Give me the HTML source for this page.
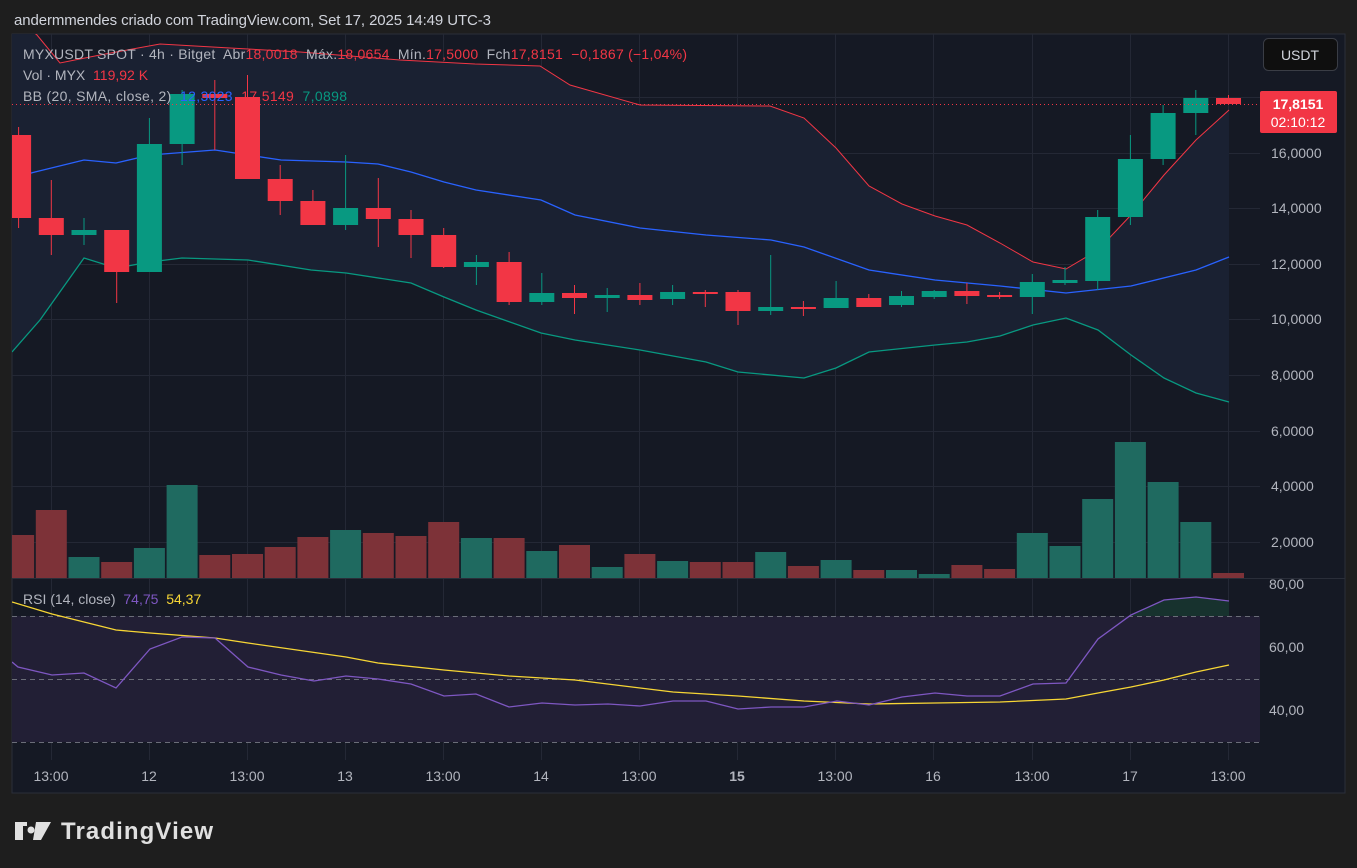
<!DOCTYPE html>
<html><head><meta charset="utf-8"><style>
body{margin:0;background:#1e1e1e;width:1357px;height:868px;overflow:hidden;font-family:"Liberation Sans",sans-serif}
svg{position:absolute;left:0;top:0}
text{white-space:pre}
</style></head><body>
<svg id="s" width="1357" height="868" xmlns="http://www.w3.org/2000/svg" font-family="Liberation Sans, sans-serif" xml:space="preserve">
<rect x="0" y="0" width="1357" height="868" fill="#1e1e1e"/>
<text x="14" y="25" fill="#d1d4dc" font-size="15" textLength="477">andermmendes criado com TradingView.com, Set 17, 2025 14:49 UTC-3</text>
<rect x="12" y="34" width="1333" height="759" fill="#151924" stroke="#2a2e39"/>
<defs><clipPath id="mc"><rect x="12" y="34" width="1248" height="544"/></clipPath>
<clipPath id="rc"><rect x="12" y="579" width="1248" height="181"/></clipPath></defs>
<g id="grid" stroke="#242835" stroke-width="1"></g>
<g id="main" clip-path="url(#mc)"></g>
<line x1="12" y1="578.5" x2="1345" y2="578.5" stroke="#2a2e39"/>
<g id="rsi" clip-path="url(#rc)"></g>
<g fill="#b2b5be" font-size="14" id="plab">
<text x="1271" y="158">16,0000</text><text x="1271" y="213">14,0000</text><text x="1271" y="269">12,0000</text>
<text x="1271" y="324">10,0000</text><text x="1271" y="380">8,0000</text><text x="1271" y="436">6,0000</text>
<text x="1271" y="491">4,0000</text><text x="1271" y="547">2,0000</text>
<text x="1269" y="589">80,00</text><text x="1269" y="652">60,00</text><text x="1269" y="715">40,00</text>
</g>
<g fill="#b2b5be" font-size="14" text-anchor="middle">
<text x="51" y="781">13:00</text><text x="149" y="781">12</text><text x="247" y="781">13:00</text>
<text x="345" y="781">13</text><text x="443" y="781">13:00</text><text x="541" y="781">14</text>
<text x="639" y="781">13:00</text><text x="737" y="781" font-weight="bold">15</text><text x="835" y="781">13:00</text>
<text x="933" y="781">16</text><text x="1032" y="781">13:00</text><text x="1130" y="781">17</text><text x="1228" y="781">13:00</text>
</g>
<rect x="1263.5" y="38.5" width="74" height="32" rx="5" fill="#0f0f0f" stroke="#3a3d45"/>
<text x="1300" y="60" fill="#d1d4dc" font-size="14" text-anchor="middle">USDT</text>
<rect x="1260" y="91" width="77" height="42" rx="2" fill="#f23645"/>
<text x="1298" y="109" fill="#fff" font-size="14" font-weight="bold" text-anchor="middle">17,8151</text>
<text x="1298" y="127" fill="#fff" font-size="14" text-anchor="middle">02:10:12</text>
<g font-size="14">
<text x="23" y="59" fill="#b2b5be" textLength="664">MYXUSDT SPOT · 4h · Bitget  Abr<tspan fill="#f23645">18,0018</tspan>  Máx.<tspan fill="#f23645">18,0654</tspan>  Mín.<tspan fill="#f23645">17,5000</tspan>  Fch<tspan fill="#f23645">17,8151  −0,1867 (−1,04%)</tspan></text>
<text x="23" y="80" fill="#b2b5be">Vol · MYX  <tspan fill="#f23645">119,92 K</tspan></text>
<text x="23" y="101" fill="#b2b5be" textLength="324">BB (20, SMA, close, 2)  <tspan fill="#2962ff">12,3023</tspan>  <tspan fill="#f23645">17,5149</tspan>  <tspan fill="#089981">7,0898</tspan></text>
<text x="23" y="604" fill="#b2b5be">RSI (14, close)  <tspan fill="#7e57c2">74,75</tspan>  <tspan fill="#f7d635">54,37</tspan></text>
</g>
<g fill="#e0e0e0">
<path d="M15 822h12v4h-4v14h-8z"/><circle cx="31" cy="830" r="3.5"/><path d="M36 822h15l-10 18h-8z"/>
</g>
<text x="61" y="839" fill="#e0e0e0" font-size="24" font-weight="bold" textLength="152">TradingView</text>
</svg>
<script>
var NS="http://www.w3.org/2000/svg";
function el(p,t,a){var e=document.createElementNS(NS,t);for(var k in a)e.setAttribute(k,a[k]);document.getElementById(p).appendChild(e);return e;}
var gx=[51,149,247,345,443,541,639,737,835,933,1032,1130,1228];
gx.forEach(function(x){el('grid','line',{x1:x+.5,y1:34,x2:x+.5,y2:760});});
[97,153,208,264,319,375,431,486,542].forEach(function(y){el('grid','line',{x1:12,y1:y+.5,x2:1260,y2:y+.5});});
[647,710].forEach(function(y){el('grid','line',{x1:12,y1:y+.5,x2:1260,y2:y+.5});});
function X(i){return 18.6+32.7*i;}
var up=[[12,15],[37,35],[60,63],[100,55],[160,44],[230,48],[300,52],[400,60],[475,64],[540,66],[570,85],[640,105],[770,106],[804,118],[836,148],[869,186],[902,204],[935,216],[967,225],[1000,243],[1033,262],[1066,269],[1098,250],[1131,215],[1164,175],[1196,140],[1229,110]];
var mid=[[12,178],[35,172],[84,160],[116,163],[150,155],[215,150],[248,155],[281,160],[346,162],[378,164],[411,172],[444,182],[476,190],[541,200],[575,215],[640,228],[706,235],[771,240],[804,247],[869,270],[935,280],[1000,286],[1066,293],[1131,286],[1196,270],[1229,257]];
var lo=[[12,352],[40,320],[84,258],[116,268],[150,262],[182,258],[248,260],[311,270],[346,273],[411,283],[444,297],[476,310],[541,333],[575,340],[640,350],[706,362],[738,372],[804,378],[836,368],[869,352],[935,345],[967,342],[1000,336],[1033,325],[1066,318],[1098,330],[1131,355],[1164,378],[1196,393],[1229,402]];
function pts(a){return a.map(function(p){return p[0]+','+p[1];}).join(' ');}
el('main','polygon',{points:pts(up)+' '+pts(lo.slice().reverse()),fill:'#1a2132'});
var vol=[[535,0],[510,0],[557,1],[562,0],[548,1],[485,1],[555,0],[554,0],[547,0],[537,0],[530,1],[533,0],[536,0],[522,0],[538,1],[538,0],[551,1],[545,0],[567,1],[554,0],[561,1],[562,0],[562,0],[552,1],[566,0],[560,1],[570,0],[570,1],[574,1],[565,0],[569,0],[533,1],[546,1],[499,1],[442,1],[482,1],[522,1],[573,0]];
vol.forEach(function(v,i){el('main','rect',{x:X(i)-15.5,y:v[0],width:31,height:578-v[0],fill:v[1]?'#1f6a60':'#7d3238'});});
el('main','polyline',{points:pts(up),fill:'none',stroke:'#f23645','stroke-width':1});
el('main','polyline',{points:pts(mid),fill:'none',stroke:'#2962ff','stroke-width':1.3});
el('main','polyline',{points:pts(lo),fill:'none',stroke:'#089981','stroke-width':1.3});
var c=[[135,218,127,228],[218,235,180,255],[235,230,218,245],[230,272,230,303],[272,144,118,272],[144,94,90,165],[94,98,80,150],[97,179,75,179],[179,201,165,215],[201,225,190,225],[225,208,155,230],[208,219,178,247],[219,235,210,258],[235,267,228,268],[267,262,255,285],[262,302,252,305],[302,293,273,305],[293,298,285,314],[298,295,288,312],[295,300,283,305],[299,292,285,305],[292,293,290,307],[292,311,290,325],[311,307,255,315],[307,308,301,316],[308,298,281,308],[298,307,294,306],[305,296,291,307],[297,291,290,299],[291,296,283,304],[295,296,292,299],[297,282,274,314],[283,280,267,285],[281,217,210,290],[217,159,135,225],[159,113,105,165],[113,98,90,135],[98,104,95,104]];
c.forEach(function(k,i){var col=k[1]<k[0]?'#089981':'#f23645';var x=X(i);
el('main','line',{x1:x,y1:k[2],x2:x,y2:k[3],stroke:col,'stroke-width':1});
var t=Math.min(k[0],k[1]),h=Math.max(2,Math.abs(k[1]-k[0]));el('main','rect',{x:x-12.5,y:t,width:25,height:h,fill:col});});
el('main','line',{x1:12,y1:104.5,x2:1260,y2:104.5,stroke:'#f23645','stroke-dasharray':'1,3'});
el('rsi','rect',{x:12,y:616,width:1248,height:126,fill:'#221f35'});
el('rsi','polygon',{points:'1131,616 1164,600 1196,597 1229,601 1229,616',fill:'#17322e'});
[616,679,742].forEach(function(y){el('rsi','line',{x1:12,y1:y+.5,x2:1260,y2:y+.5,stroke:'#6a6d78','stroke-dasharray':'5,4'});});
el('rsi','polyline',{points:'12,602 52,614 116,630 150,633 215,638 248,643 346,657 378,663 444,670 509,676 575,680 673,692 738,696 804,701 869,704 935,703 1000,702 1066,699 1098,693 1131,687 1164,680 1196,672 1229,665',fill:'none',stroke:'#f7d635','stroke-width':1.3});
el('rsi','polyline',{points:'12,662 18,667 52,675 84,673 116,688 150,649 182,637 215,638 248,667 281,675 314,681 346,676 378,679 411,684 444,696 476,694 509,707 542,703 575,705 608,704 640,706 673,701 706,701 738,709 771,707 804,707 837,701 869,705 902,697 935,693 967,696 1000,696 1033,684 1066,683 1098,639 1131,615 1164,600 1196,597 1229,601',fill:'none',stroke:'#7e57c2','stroke-width':1.3});
</script>
</body></html>
